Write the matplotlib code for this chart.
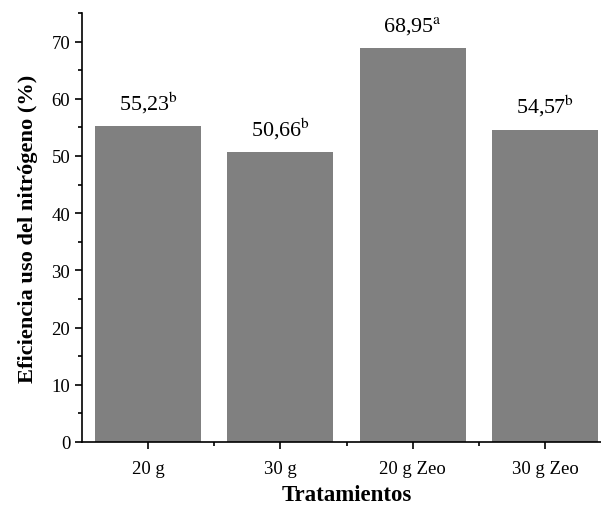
import matplotlib
matplotlib.use("Agg")
import matplotlib.pyplot as plt
from matplotlib.ticker import MultipleLocator, FixedLocator

plt.rcParams['font.family'] = ['Liberation Serif', 'DejaVu Serif']
plt.rcParams['mathtext.fontset'] = 'stix'

categories = ["20 g", "30 g", "20 g Zeo", "30 g Zeo"]
values = [55.23, 50.66, 68.95, 54.57]
value_labels = ["55,23", "50,66", "68,95", "54,57"]
letters = ["b", "b", "a", "b"]

fig = plt.figure(figsize=(6.01, 5.10), dpi=100)
ax = fig.add_axes([82/601, 1-443/510, (611-82)/601, (443-14)/510])

x = list(range(len(categories)))
ax.bar(x, values, width=0.8, color="#808080", edgecolor="none")

for xi, v, lab, let in zip(x, values, value_labels, letters):
    ax.annotate(lab + r"$^{\mathrm{" + let + "}}$", (xi, v), xytext=(0, 12.2),
                textcoords="offset points", ha="center", va="baseline", fontsize=15.8)

ax.set_xlim(-0.5, 3.5)
ax.set_ylim(0, 75)
ax.set_xticks(x)
ax.set_xticklabels(categories, fontsize=13.5)
ax.xaxis.set_minor_locator(FixedLocator([0.5, 1.5, 2.5]))
ax.yaxis.set_major_locator(MultipleLocator(10))
ax.yaxis.set_minor_locator(MultipleLocator(5))
ax.tick_params(axis='y', labelsize=13.5)
ax.tick_params(axis='x', pad=8)
ax.tick_params(which='major', direction='out', length=5, width=1.2)
ax.tick_params(which='minor', direction='out', length=3, width=1.2)

for s in ['top', 'right']:
    ax.spines[s].set_visible(False)
for s in ['left', 'bottom']:
    ax.spines[s].set_linewidth(1.2)

ax.set_ylabel("Eficiencia uso del nitrógeno (%)", fontsize=16.1, fontweight='bold', labelpad=10)
ax.set_xlabel("Tratamientos", fontsize=16.5, fontweight='bold', labelpad=5)

fig.savefig("out.png", dpi=100)
